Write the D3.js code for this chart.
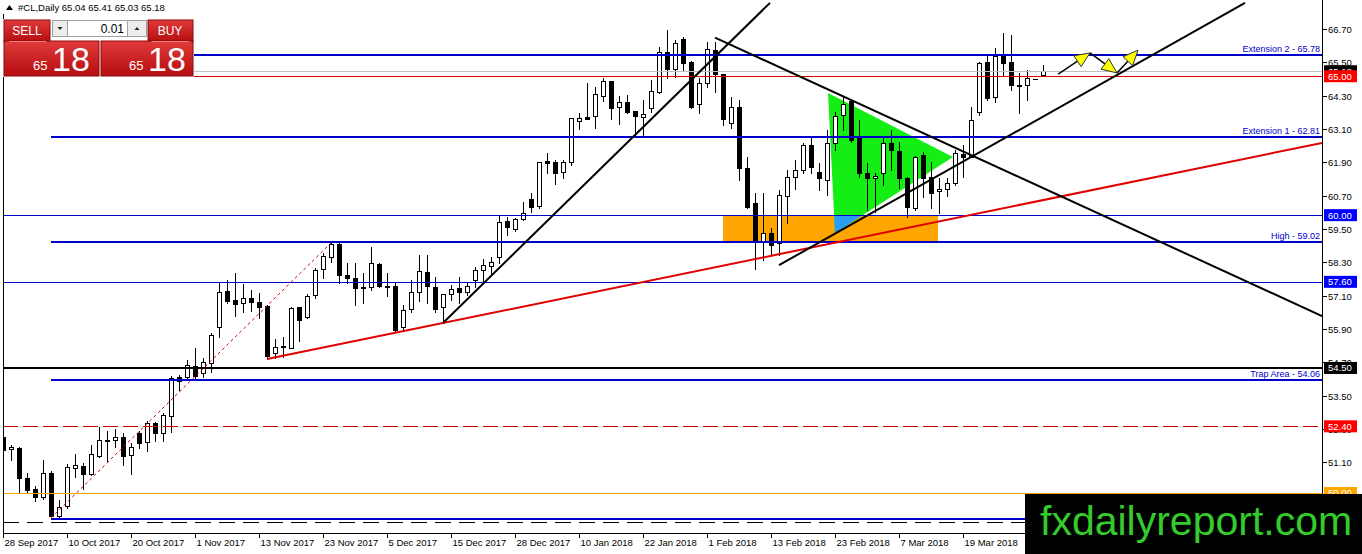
<!DOCTYPE html>
<html><head><meta charset="utf-8">
<script src="https://cdn.jsdelivr.net/npm/d3@7"></script>
<style>html,body{margin:0;padding:0;background:#fff;overflow:hidden}svg{display:block}</style>
</head><body><svg id="c" width="1362" height="554"></svg>
<script>
// ---------- DATA ----------
const symbolTitle = "#CL,Daily";
const lastOHLC = [65.04, 65.41, 65.03, 65.18];
const open = [52.01,51.58,51.62,50.54,50.14,49.85,50.72,49.17,49.53,50.90,
50.97,50.68,51.33,51.90,51.90,52.01,51.36,52.16,51.83,52.52,
52.16,52.77,54.17,54.17,54.57,54.32,54.68,55.97,57.27,56.94,
56.84,57.02,56.87,56.73,55.04,55.25,55.22,56.69,56.33,57.12,
58.06,58.49,58.96,57.84,57.74,57.41,57.41,58.24,57.45,57.45,
55.97,56.62,57.23,57.95,57.41,56.69,57.16,57.38,57.23,57.66,
58.02,58.17,58.49,59.79,59.50,59.86,60.58,60.33,61.95,61.91,
61.55,61.91,63.39,63.53,63.57,64.29,64.83,63.89,64.07,63.75,
63.53,63.86,64.43,65.87,65.26,66.34,65.52,64.00,64.76,65.94,
65.08,63.32,63.89,61.70,60.44,59.07,59.36,59.00,60.69,61.37,
61.62,62.52,61.55,61.26,62.60,63.60,64.11,62.81,61.52,61.34,
61.52,62.60,62.31,61.34,60.26,62.16,61.37,60.87,60.94,61.16,
62.20,62.09,63.71,65.52,64.25,65.80,65.52,64.68,64.68,64.90,
65.04];
const high = [52.88,51.72,51.65,50.72,50.25,51.18,50.79,49.74,51.04,51.40,
51.08,51.72,52.37,52.23,52.30,52.16,51.79,52.23,52.59,52.55,
52.88,54.21,54.24,54.78,55.22,54.86,55.76,57.56,57.66,57.92,
57.52,57.30,57.20,56.76,55.54,55.61,56.69,56.69,57.16,58.10,
58.63,59.00,59.00,58.28,58.28,57.92,58.85,58.28,57.92,57.56,
56.76,57.66,58.56,58.56,57.77,57.16,57.48,57.77,57.59,58.13,
58.42,58.49,59.97,59.93,59.90,60.47,60.80,61.91,62.24,61.98,
61.98,63.50,63.68,64.76,64.61,64.94,64.83,64.29,64.32,63.75,
64.14,64.86,66.05,66.66,66.30,66.41,65.55,64.94,66.23,66.23,
65.08,64.25,64.14,62.09,60.80,60.80,59.54,60.90,61.62,61.98,
62.60,62.78,61.88,63.06,63.71,64.25,64.14,63.42,61.88,61.52,
62.78,63.06,62.63,61.37,62.13,62.27,61.91,61.34,61.34,62.34,
62.52,63.89,65.52,65.73,66.02,66.56,66.48,65.12,65.22,64.90,
65.41];
const low = [51.18,51.18,49.99,50.03,49.71,49.78,49.10,49.13,49.46,50.57,
50.14,50.64,51.29,51.15,51.65,51.00,50.68,51.62,51.51,51.87,
51.87,52.19,53.70,54.06,54.06,54.17,54.35,55.61,56.84,56.37,
56.51,56.55,56.30,54.82,54.86,54.89,55.22,55.47,56.30,57.02,
57.74,58.31,57.56,57.56,56.76,56.84,57.30,57.41,57.09,55.79,
55.83,56.51,56.91,56.84,56.51,56.12,56.94,56.84,57.12,57.41,
57.59,57.84,58.28,59.28,59.43,59.82,60.11,60.26,61.52,61.12,
61.34,61.80,63.10,63.46,63.14,64.11,63.46,63.28,63.68,62.88,
62.85,63.71,64.40,64.94,64.97,65.22,63.86,63.68,64.61,64.43,
63.24,63.14,61.26,60.26,58.06,58.38,58.56,58.56,59.72,60.94,
61.52,61.52,60.90,60.72,62.34,63.06,62.63,61.37,60.18,60.11,
61.08,61.62,60.98,59.93,60.18,60.65,60.26,60.08,60.69,61.08,
61.37,62.09,63.60,64.14,64.07,65.04,64.50,63.68,64.14,64.90,
65.03];
const close = [51.54,51.65,50.54,50.10,49.85,50.72,49.17,49.50,50.93,51.00,
50.68,51.40,51.90,51.87,52.01,51.33,51.65,51.79,52.52,52.16,
52.80,54.14,54.03,54.60,54.21,54.71,55.68,57.23,56.91,56.80,
57.02,56.87,56.69,54.93,55.25,55.29,56.66,56.22,57.09,58.02,
58.53,58.96,57.84,57.74,57.38,57.38,58.28,57.45,57.41,55.86,
56.58,57.23,57.99,57.45,56.62,57.16,57.34,57.23,57.45,58.02,
58.20,58.31,59.75,59.57,59.86,60.08,60.30,61.91,61.88,61.52,
61.91,63.50,63.50,63.46,64.36,64.83,63.86,64.07,63.71,63.57,
63.64,64.47,65.87,65.26,66.20,65.48,63.89,64.76,65.98,65.08,
63.46,63.89,61.70,60.30,59.03,59.36,58.92,60.72,61.37,61.62,
62.52,61.73,61.34,62.60,63.57,64.00,62.70,61.52,61.34,61.41,
62.60,62.34,61.34,60.30,62.09,61.34,60.80,60.94,61.16,62.24,
62.09,63.42,65.48,64.22,65.73,65.48,64.68,64.65,64.94,64.90,
65.18];

const dateTickIndex = [0,8,16,24,32,40,48,56,64,72,80,88,96,104,112,120];
const dateTickLabels = ["28 Sep 2017","10 Oct 2017","20 Oct 2017","1 Nov 2017","13 Nov 2017","23 Nov 2017","5 Dec 2017","15 Dec 2017","28 Dec 2017","10 Jan 2018","22 Jan 2018","1 Feb 2018","13 Feb 2018","23 Feb 2018","7 Mar 2018","19 Mar 2018"];
const priceTicks = [66.70,65.50,64.30,63.10,61.90,60.70,59.50,58.30,57.10,55.90,54.70,53.50,52.30,51.10,49.90];

// levels drawn from the swing-low bar (index 6)
const fibStart = 6;
const fibLevels = [65.78, 62.81, 59.02, 54.06, 49.07];
const fibLabels = ["Extension 2 - 65.78","Extension 1 - 62.81","High - 59.02","Trap Area - 54.06",""];
// full-width horizontal lines
const hBid = 65.18, hRed = 65.00, hBlue1 = 60.00, hBlue2 = 57.60, hBlack = 54.50, hRedDash = 52.40, hOrange = 50.00, hBlackDash = 48.96;
const tagValues = [65.18, 65.00, 60.00, 57.60, 54.50, 52.40, 50.00];

// trend lines as [barIndex, price] pairs
const redTrend = [[33,54.82],[164.875,62.60]];
const upTrend1 = [[55,56.12],[95.875,67.64]];
const downTrend = [[89,66.39],[164.875,56.37]];
const upTrend2 = [[97,58.20],[155.25,67.64]];
const fibLine = [[6,49.10],[41,59.00]];
const greenTri = [[103.125,64.40],[104,59.36],[118.75,62.09]];
const orangeBox = [[90,60.00],[116.875,59.02]];
const arrowPath = [[131.9,65.08],[135.875,65.84],[139.25,65.12],[141.875,65.94]];
const panelPrice = ["65","18"];
const lotSize = "0.01";

// ---------- SCALES ----------
const W=1362,H=554, L=3, R=1322, T=0, B=533;
const x = d3.scaleLinear().domain([0,164.875]).range([L,R]);
const y = d3.scaleLinear().domain([48.56,67.744]).range([B,T]);
const FONT = "'Liberation Sans', Arial, sans-serif";
const BLUE = "#0000c8";

const svg = d3.select("#c");
const defs = svg.append("defs");
defs.append("clipPath").attr("id","plot").append("rect").attr("x",L).attr("y",T).attr("width",R-L).attr("height",B-T);
defs.append("clipPath").attr("id","obox").append("rect")
  .attr("x",x(orangeBox[0][0])).attr("y",y(orangeBox[0][1]))
  .attr("width",x(orangeBox[1][0])-x(orangeBox[0][0])).attr("height",y(orangeBox[1][1])-y(orangeBox[0][1]));
const gr = defs.append("linearGradient").attr("id","red").attr("x1",0).attr("y1",0).attr("x2",0).attr("y2",1);
gr.append("stop").attr("offset","0%").attr("stop-color","#e03a3a");
gr.append("stop").attr("offset","100%").attr("stop-color","#b50d10");

svg.append("rect").attr("width",W).attr("height",H).attr("fill","#fff");
const plot = svg.append("g").attr("clip-path","url(#plot)");

// filled objects (background)
plot.append("rect")
  .attr("x",x(orangeBox[0][0])).attr("y",y(orangeBox[0][1]))
  .attr("width",x(orangeBox[1][0])-x(orangeBox[0][0])).attr("height",y(orangeBox[1][1])-y(orangeBox[0][1]))
  .attr("fill","#ffa500");
const triPath = d3.line().x(d=>x(d[0])).y(d=>y(d[1]));
plot.append("path").attr("d",triPath(greenTri)+"Z").attr("fill","#14ee14");
plot.append("path").attr("d",triPath(greenTri)+"Z").attr("fill","#2a9df4").attr("clip-path","url(#obox)");

// candles
const cg = plot.append("g");
open.forEach((o,i)=>{
  const h=high[i], l=low[i], c=close[i];
  const cx = Math.round(x(i));
  const up = c>=o;
  cg.append("line").attr("x1",cx+0.5).attr("x2",cx+0.5)
    .attr("y1",Math.round(y(h))).attr("y2",Math.round(y(l))+1).attr("stroke","#000").attr("stroke-width",1);
  const yt = Math.round(y(Math.max(o,c))), yb = Math.round(y(Math.min(o,c)));
  if (yb-yt < 1) {
    cg.append("line").attr("x1",cx-2).attr("x2",cx+3).attr("y1",yt+0.5).attr("y2",yt+0.5).attr("stroke","#000");
  } else {
    cg.append("rect").attr("x",cx-1.5).attr("y",yt+0.5).attr("width",4).attr("height",yb-yt)
      .attr("fill",up?"#fff":"#000").attr("stroke","#000").attr("stroke-width",1);
  }
});

// horizontal lines
function hline(p, x0, color, w, dash){
  const yy = Math.round(y(p)) + (w%2?0.5:0);
  plot.append("line").attr("x1",x0).attr("x2",R).attr("y1",yy).attr("y2",yy)
    .attr("stroke",color).attr("stroke-width",w).attr("stroke-dasharray",dash||null);
}
hline(hBid, L, "#c0c0c0", 1);
hline(hRed, L, "#e00000", 1);
hline(hBlue1, L, BLUE, 1);
hline(hBlue2, L, BLUE, 1);
hline(hBlack, L, "#000", 2);
hline(hRedDash, L, "#d00000", 1, "15,5");
hline(hOrange, L, "#ffa500", 1);
hline(hBlackDash, L, "#000", 1, "16,8");
fibLevels.forEach((p,k)=>{
  hline(p, x(fibStart), BLUE, 2);
  if (fibLabels[k]) plot.append("text").attr("x",R-2).attr("y",Math.round(y(p))-3)
    .attr("text-anchor","end").attr("font-family",FONT).attr("font-size",9).attr("fill","#0000cc").text(fibLabels[k]);
});

// trend lines
const ln = d3.line().x(d=>x(d[0])).y(d=>y(d[1]));
plot.append("path").attr("d",ln(fibLine)).attr("stroke","#d00000").attr("stroke-width",1).attr("stroke-dasharray","3,3").attr("fill","none");
plot.append("path").attr("d",ln(redTrend)).attr("stroke","#e00000").attr("stroke-width",2).attr("fill","none");
[upTrend1, downTrend, upTrend2].forEach(t=>{
  plot.append("path").attr("d",ln(t)).attr("stroke","#000").attr("stroke-width",2).attr("fill","none");
});

// arrows
for (let k=0;k<arrowPath.length-1;k++){
  const x0=x(arrowPath[k][0]), y0=y(arrowPath[k][1]), x1=x(arrowPath[k+1][0]), y1=y(arrowPath[k+1][1]);
  const dx=x1-x0, dy=y1-y0, len=Math.hypot(dx,dy), ux=dx/len, uy=dy/len;
  const hl=15, hw=6.5;
  const bx=x1-ux*hl, by=y1-uy*hl;
  plot.append("line").attr("x1",x0).attr("y1",y0).attr("x2",bx).attr("y2",by).attr("stroke","#000").attr("stroke-width",1.5);
  const pts=[[x1,y1],[bx-uy*hw,by+ux*hw],[bx+uy*hw,by-ux*hw]];
  plot.append("path").attr("d","M"+pts.map(p=>p.join(",")).join("L")+"Z").attr("fill","#ffff00").attr("stroke","#333").attr("stroke-width",1);
}

// ---------- AXES ----------
svg.append("line").attr("x1",R+0.5).attr("x2",R+0.5).attr("y1",0).attr("y2",B+1).attr("stroke","#000");
svg.append("line").attr("x1",L).attr("x2",R+1).attr("y1",B+0.5).attr("y2",B+0.5).attr("stroke","#000");
svg.append("line").attr("x1",L+0.5).attr("x2",L+0.5).attr("y1",14).attr("y2",B+1).attr("stroke","#000");
dateTickIndex.forEach((ix,k)=>{
  const xx=Math.round(x(ix))+0.5;
  svg.append("line").attr("x1",xx).attr("x2",xx).attr("y1",B).attr("y2",B+5).attr("stroke","#000");
  svg.append("text").attr("x",xx+1).attr("y",546).attr("font-family",FONT).attr("font-size",9.5).attr("fill","#000").text(dateTickLabels[k]);
});
priceTicks.forEach(p=>{
  const yy=Math.round(y(p))+0.5;
  svg.append("line").attr("x1",R).attr("x2",R+5).attr("y1",yy).attr("y2",yy).attr("stroke","#000");
  svg.append("text").attr("x",R+6).attr("y",yy+3.5).attr("font-family",FONT).attr("font-size",9.5).attr("fill","#000").text(p.toFixed(2));
});
const tagColors = ["#000","#ff0000","#0000ff","#0000ff","#000","#ff0000","#ffa500"];
tagValues.forEach((p,k)=>{
  const yy=y(p);
  svg.append("rect").attr("x",R+2).attr("y",yy-6).attr("width",33).attr("height",12).attr("fill",tagColors[k]);
  svg.append("text").attr("x",R+6).attr("y",yy+3.5).attr("font-family",FONT).attr("font-size",9.5).attr("fill","#fff").text(p.toFixed(2));
});

// ---------- HEADER + TRADE PANEL ----------
svg.append("path").attr("d","M6,10 L9.5,5 L13,10 Z").attr("fill","#000");
svg.append("text").attr("x",18).attr("y",11).attr("font-family",FONT).attr("font-size",9.5).attr("fill","#000")
  .text(symbolTitle+"  "+lastOHLC.map(v=>v.toFixed(2)).join(" "));
const pnl = svg.append("g");
pnl.append("rect").attr("x",3).attr("y",19).attr("width",191).attr("height",58).attr("fill","#fff");
pnl.append("rect").attr("x",4).attr("y",20).attr("width",46).attr("height",22).attr("fill","url(#red)").attr("stroke","#8a0a0a");
pnl.append("rect").attr("x",148).attr("y",20).attr("width",45).attr("height",22).attr("fill","url(#red)").attr("stroke","#8a0a0a");
pnl.append("rect").attr("x",4).attr("y",41).attr("width",95).attr("height",35).attr("fill","url(#red)").attr("stroke","#8a0a0a");
pnl.append("rect").attr("x",101).attr("y",41).attr("width",92).attr("height",35).attr("fill","url(#red)").attr("stroke","#8a0a0a");
pnl.append("line").attr("x1",9).attr("x2",46).attr("y1",41.5).attr("y2",41.5).attr("stroke","#f08080");
pnl.append("line").attr("x1",152).attr("x2",189).attr("y1",41.5).attr("y2",41.5).attr("stroke","#f08080");
pnl.append("rect").attr("x",52.5).attr("y",20.5).attr("width",15).attr("height",16).attr("fill","#ececec").attr("stroke","#a0a0a0");
pnl.append("rect").attr("x",67.5).attr("y",20.5).attr("width",60).attr("height",16).attr("fill","#fff").attr("stroke","#a0a0a0");
pnl.append("rect").attr("x",127.5).attr("y",20.5).attr("width",19).attr("height",16).attr("fill","#ececec").attr("stroke","#a0a0a0");
pnl.append("path").attr("d","M57.5,27 L62.5,27 L60,30 Z").attr("fill","#222");
pnl.append("path").attr("d","M134.5,30 L139.5,30 L137,27 Z").attr("fill","#222");
pnl.append("text").attr("x",124).attr("y",33).attr("text-anchor","end").attr("font-family",FONT).attr("font-size",12).attr("fill","#000").text(lotSize);
pnl.append("text").attr("x",27).attr("y",35).attr("text-anchor","middle").attr("font-family",FONT).attr("font-size",12).attr("fill","#fff").text("SELL");
pnl.append("text").attr("x",170).attr("y",35).attr("text-anchor","middle").attr("font-family",FONT).attr("font-size",12).attr("fill","#fff").text("BUY");
[[33,52],[129,148]].forEach(([a,b])=>{
  pnl.append("text").attr("x",a).attr("y",70).attr("font-family",FONT).attr("font-size",13).attr("fill","#fff").text(panelPrice[0]);
  pnl.append("text").attr("x",b).attr("y",71).attr("font-family",FONT).attr("font-size",34).attr("fill","#fff").text(panelPrice[1]);
});

// ---------- LOGO ----------
svg.append("rect").attr("x",1025).attr("y",494).attr("width",337).attr("height",60).attr("fill","#000");
svg.append("text").attr("x",1040).attr("y",535).attr("font-family",FONT).attr("font-size",41).attr("fill","#34cc2c").text("fxdailyreport.com");
</script></body></html>
